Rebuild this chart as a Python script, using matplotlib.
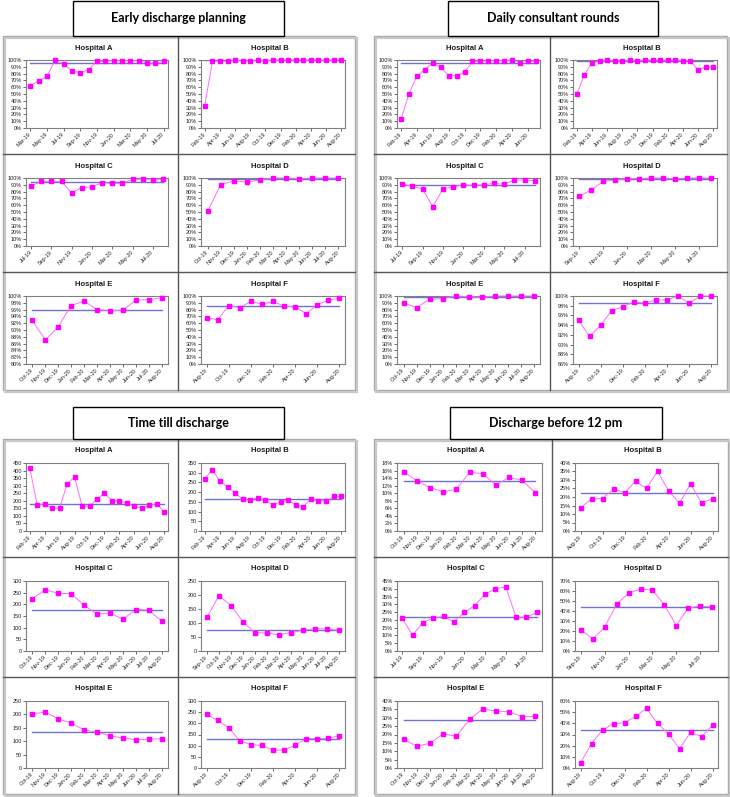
import numpy as np
import matplotlib.pyplot as plt
from matplotlib.patches import Rectangle
from matplotlib.lines import Line2D

W, H = 730, 797
fig = plt.figure(figsize=(7.3, 7.97), dpi=100)

months = ['Feb-19', 'Mar-19', 'Apr-19', 'May-19', 'Jun-19', 'Jul-19', 'Aug-19',
          'Sep-19', 'Oct-19', 'Nov-19', 'Dec-19', 'Jan-20', 'Feb-20', 'Mar-20',
          'Apr-20', 'May-20', 'Jun-20', 'Jul-20', 'Aug-20']

# Early discharge planning (%)
edp_a = [62, 69, 76, 100, 94, 84, 81, 86, 98, 98, 99, 99, 99, 99, 96, 95, 98]
edp_b = [33, 98, 98, 98, 100, 99, 99, 100, 99, 100, 100, 100, 100, 100, 100, 100, 100, 100, 100]
edp_c = [88, 95, 95, 95, 78, 86, 87, 93, 92, 92, 98, 98, 97, 98]
edp_d = [51, 90, 96, 94, 97, 100, 100, 99, 100, 100, 100]
edp_e = [92.8, 87, 91, 97.2, 98.5, 96, 95.7, 95.8, 98.8, 98.9, 99.5]
edp_f = [68, 65, 86, 83, 92, 88, 92, 85, 84, 74, 87, 94, 97]
edp_start = ['Mar-19', 'Feb-19', 'Jul-19', 'Oct-19', 'Oct-19', 'Aug-19']
edp_mean = [96, 99.5, 94, 98.5, 96, 86]

# Daily consultant rounds (%)
dcr_a = [13, 50, 76, 86, 96, 89, 77, 77, 82, 98, 98, 99, 99, 99, 100, 96, 98, 98]
dcr_b = [50, 78, 96, 98, 100, 99, 99, 100, 99, 100, 100, 100, 100, 100, 99, 99, 85, 90, 90]
dcr_c = [91, 88, 84, 58, 84, 87, 90, 89, 90, 92, 91, 97, 97, 96]
dcr_d = [73, 82, 95, 97, 99, 99, 100, 100, 99, 100, 100, 100]
dcr_e = [90, 83, 95, 96, 100, 99, 98, 100, 100, 100, 100]
dcr_f = [95, 91.7, 94, 97, 97.8, 98.8, 98.5, 99.2, 99.2, 100, 98.5, 100, 100]
dcr_start = ['Feb-19', 'Feb-19', 'Jul-19', 'Sep-19', 'Oct-19', 'Aug-19']
dcr_mean = [96, 99, 90, 99, 99, 98.5]

# Time till discharge
ttd_a = [418, 172, 180, 150, 152, 310, 358, 165, 163, 212, 251, 200, 200, 185, 163, 152, 170, 180, 125]
ttd_b = [270, 315, 255, 228, 195, 165, 162, 170, 157, 133, 150, 158, 133, 125, 165, 155, 155, 178, 178]
ttd_c = [225, 262, 247, 246, 196, 158, 163, 136, 177, 176, 128]
ttd_d = [120, 198, 162, 104, 66, 64, 58, 66, 74, 80, 79, 74]
ttd_e = [203, 208, 183, 168, 142, 134, 120, 112, 106, 107, 110]
ttd_f = [240, 213, 180, 122, 105, 101, 80, 80, 102, 132, 132, 133, 145]
ttd_start = ['Feb-19', 'Feb-19', 'Oct-19', 'Sep-19', 'Oct-19', 'Aug-19']
ttd_mean = [180, 165, 177, 76, 134, 132]

# Discharge before 12 pm (%)
d12_a = [15.7, 13.3, 11.5, 10.4, 11, 15.5, 15.2, 12.2, 14.2, 13.4, 10.1]
d12_b = [13.5, 19, 19, 24.7, 22.5, 29.2, 25, 35.2, 23.7, 16.3, 27.8, 16.5, 19]
d12_c = [21, 10.2, 18.2, 21.3, 22.2, 18.8, 24.8, 29.2, 36.5, 40, 41.2, 21.7, 21.7, 24.8]
d12_d = [21, 12, 24, 47, 58, 62, 61, 46, 25.5, 43, 45, 44]
d12_e = [17.2, 13, 14.8, 20.3, 19, 29, 35.2, 34, 33.6, 30.6, 30.8]
d12_f = [4.5, 21.8, 34, 39.7, 40.5, 46.2, 53.5, 40, 30.5, 17.3, 31.8, 28.2, 38.2]
d12_start = ['Oct-19', 'Aug-19', 'Jul-19', 'Sep-19', 'Oct-19', 'Aug-19']
d12_mean = [13.3, 22.5, 22, 44.5, 28.8, 34]

hospitals = ['Hospital A', 'Hospital B', 'Hospital C', 'Hospital D', 'Hospital E', 'Hospital F']

# group layout in pixels: title box, panel columns, panel rows
groups = [
    dict(title='Early discharge planning', series=[edp_a, edp_b, edp_c, edp_d, edp_e, edp_f],
         start=edp_start, mean=edp_mean, pct=True,
         ylims=[(0, 100, 10)] * 4 + [(80, 100, 2), (0, 100, 10)],
         step=[2, 2, 2, 1, 1, 2],
         box=(73, 1, 284, 36), cols=(3, 178, 355), rows=(36, 154, 272, 390)),
    dict(title='Daily consultant rounds', series=[dcr_a, dcr_b, dcr_c, dcr_d, dcr_e, dcr_f],
         start=dcr_start, mean=dcr_mean, pct=True,
         ylims=[(0, 100, 10)] * 5 + [(86, 100, 2)],
         step=[2, 2, 2, 2, 1, 2],
         box=(448, 1, 658, 36), cols=(374, 550, 727), rows=(36, 154, 272, 390)),
    dict(title='Time till discharge', series=[ttd_a, ttd_b, ttd_c, ttd_d, ttd_e, ttd_f],
         start=ttd_start, mean=ttd_mean, pct=False,
         ylims=[(0, 450, 50), (0, 350, 50), (0, 300, 50), (0, 250, 50), (0, 250, 50), (0, 300, 50)],
         step=[2, 2, 1, 1, 1, 2],
         box=(73, 407, 284, 439), cols=(3, 178, 355), rows=(439, 557, 677, 794)),
    dict(title='Discharge before 12 pm', series=[d12_a, d12_b, d12_c, d12_d, d12_e, d12_f],
         start=d12_start, mean=d12_mean, pct=True,
         ylims=[(0, 18, 2), (0, 40, 5), (0, 45, 5), (0, 70, 10), (0, 40, 5), (0, 60, 10)],
         step=[1, 2, 2, 2, 1, 2],
         box=(450, 407, 662, 439), cols=(374, 552, 728), rows=(439, 557, 677, 794)),
]


def fx(x):
    return x / W


def fy(y):
    return 1 - y / H


def frame(x0, y0, x1, y1, **kw):
    fig.add_artist(Rectangle((fx(x0), fy(y1)), fx(x1) - fx(x0), fy(y0) - fy(y1),
                             transform=fig.transFigure, **kw))


def hline(x0, x1, y, **kw):
    fig.add_artist(Line2D([fx(x0), fx(x1)], [fy(y), fy(y)], transform=fig.transFigure, **kw))


def vline(x, y0, y1, **kw):
    fig.add_artist(Line2D([fx(x), fx(x)], [fy(y0), fy(y1)], transform=fig.transFigure, **kw))


for g in groups:
    c0, cm, c1 = g['cols']
    r = g['rows']
    # outer frame with slight shadow
    frame(c0 + 1.5, r[0] + 1.5, c1 + 1.5, r[3] + 1.5, facecolor='none', edgecolor='#c8c8c8', lw=1.6)
    frame(c0, r[0], c1, r[3], facecolor='white', edgecolor='#a8a8a8', lw=1.0, zorder=0)
    vline(cm, r[0], r[3], color='#555555', lw=1.0)
    hline(c0, c1, r[1], color='#555555', lw=1.0)
    hline(c0, c1, r[2], color='#555555', lw=1.0)

    bx0, by0, bx1, by1 = g['box']
    frame(bx0, by0, bx1, by1, facecolor='white', edgecolor='black', lw=1.0, zorder=3)
    fig.text(fx((bx0 + bx1) / 2), fy((by0 + by1) / 2), g['title'], ha='center', va='center',
             fontsize=9, fontweight='bold', family='Lato', zorder=4)

    for k in range(6):
        row, col = divmod(k, 2)
        px0, px1 = (c0, cm) if col == 0 else (cm, c1)
        py0, py1 = r[row], r[row + 1]
        vals = g['series'][k]
        n = len(vals)
        i0 = months.index(g['start'][k])
        labels = months[i0:i0 + n]
        x = np.arange(n)

        fig.text(fx((px0 + px1) / 2 + 3), fy(py0 + 12), hospitals[k], ha='center', va='center',
                 fontsize=5.5, fontweight='bold', family='Liberation Sans', color='#1a1a1a')

        ax0, ax1 = px0 + 23, px1 - 10
        ay0, ay1 = py0 + 24, py1 - 26
        ax = fig.add_axes([fx(ax0), fy(ay1), fx(ax1) - fx(ax0), fy(ay0) - fy(ay1)])
        ax.plot([0, n - 1], [g['mean'][k]] * 2, color='#7272d4', lw=1.0, zorder=2)
        ax.plot(x, vals, color='#ff6cff', lw=0.7, marker='s', ms=2.3,
                mfc='#ff00ff', mec='#ff00ff', clip_on=False, zorder=3)

        lo, hi, st = g['ylims'][k]
        ax.set_xlim(-0.5, n - 0.5)
        ax.set_ylim(lo, hi)
        yt = np.arange(lo, hi + st / 2, st)
        ax.set_yticks(yt)
        if g['pct']:
            ax.set_yticklabels(['%d%%' % round(v) for v in yt])
        else:
            ax.set_yticklabels(['%d' % round(v) for v in yt])
        xt = x[::g['step'][k]]
        ax.set_xticks(xt)
        ax.set_xticklabels([labels[i] for i in xt], rotation=45, ha='right',
                           rotation_mode='anchor', va='center')
        ax.tick_params(labelsize=4, length=2, width=0.5, pad=1, colors='#333333',
                       labelcolor='#222222')
        ax.tick_params(axis='x', pad=2)
        for lab in ax.get_xticklabels() + ax.get_yticklabels():
            lab.set_family('Liberation Sans')
        for s in ax.spines.values():
            s.set_color('#808080')
            s.set_linewidth(0.8)

fig.savefig('out.png', dpi=100)
